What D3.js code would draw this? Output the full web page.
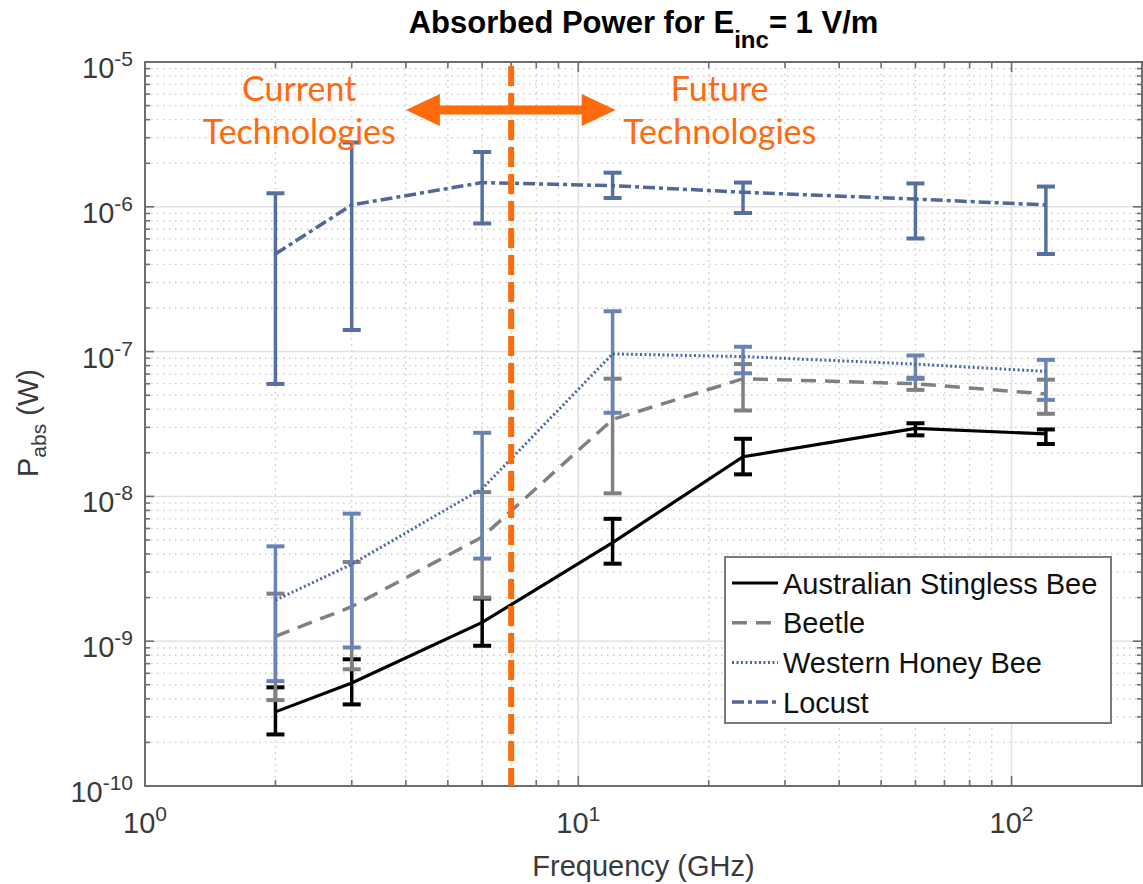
<!DOCTYPE html>
<html>
<head>
<meta charset="utf-8">
<script src="https://cdn.jsdelivr.net/npm/d3@7"></script>
<style>
  html, body { margin: 0; padding: 0; background: #fff; }
  svg { display: block; }
  text { font-family: "Liberation Sans", Arial, Helvetica, sans-serif; }
</style>
</head>
<body>
<svg id="chart" width="1143" height="884"></svg>
<script>
// ---------------- data ----------------
const frequencies = [2, 3, 6, 12, 24, 60, 120]; // GHz

const stinglessMean  = [3.25e-10, 5.15e-10, 1.35e-9, 4.8e-9, 1.88e-8, 2.95e-8, 2.7e-8];
const stinglessUpper = [4.8e-10, 7.5e-10, 1.97e-9, 7.0e-9, 2.5e-8, 3.2e-8, 2.9e-8];
const stinglessLower = [2.27e-10, 3.66e-10, 9.3e-10, 3.43e-9, 1.42e-8, 2.64e-8, 2.3e-8];

const beetleMean  = [1.08e-9, 1.73e-9, 5.24e-9, 3.4e-8, 6.5e-8, 6.0e-8, 5.1e-8];
const beetleUpper = [2.13e-9, 3.52e-9, 1.07e-8, 6.5e-8, 8.2e-8, 6.6e-8, 6.4e-8];
const beetleLower = [3.92e-10, 6.4e-10, 2.0e-9, 1.05e-8, 3.92e-8, 5.44e-8, 3.72e-8];

const honeyMean  = [1.92e-9, 3.4e-9, 1.13e-8, 9.64e-8, 9.24e-8, 8.2e-8, 7.3e-8];
const honeyUpper = [4.52e-9, 7.6e-9, 2.75e-8, 1.9e-7, 1.08e-7, 9.4e-8, 8.77e-8];
const honeyLower = [5.3e-10, 9.05e-10, 3.72e-9, 3.78e-8, 7.08e-8, 6.48e-8, 4.64e-8];

const locustMean  = [4.72e-7, 1.03e-6, 1.47e-6, 1.40e-6, 1.26e-6, 1.13e-6, 1.03e-6];
const locustUpper = [1.24e-6, 2.78e-6, 2.39e-6, 1.72e-6, 1.47e-6, 1.45e-6, 1.38e-6];
const locustLower = [5.98e-8, 1.41e-7, 7.67e-7, 1.15e-6, 9.06e-7, 6.04e-7, 4.72e-7];

const seriesNames = ["Australian Stingless Bee", "Beetle", "Western Honey Bee", "Locust"];

const xDomain = [1, 200];
const yDomain = [1e-10, 1e-5];
const xMajorTicks = [1, 10, 100];
const xTickExponents = ["0", "1", "2"];
const yMajorTicks = [1e-10, 1e-9, 1e-8, 1e-7, 1e-6, 1e-5];
const yTickExponents = ["-10", "-9", "-8", "-7", "-6", "-5"];

const dividerFreq = 7;          // GHz, orange boundary
const arrowFrom = 4.0, arrowTo = 12.2, arrowLevel = 4.66e-6;
const currentLabelFreq = 2.27, futureLabelFreq = 21.2;

// ---------------- layout ----------------
const margin = { left: 145, right: 1142, top: 62, bottom: 786 };
const svg = d3.select("#chart");

const x = d3.scaleLog().domain(xDomain).range([margin.left, margin.right]);
const y = d3.scaleLog().domain(yDomain).range([margin.bottom, margin.top]);

const xMinor = [];
for (let d = 1; d <= 100; d *= 10) for (let k = 2; k <= 9; k++) { const v = k * d; if (v < xDomain[1]) xMinor.push(v); }
const yMinor = [];
for (let e = -10; e < -5; e++) for (let k = 2; k <= 9; k++) yMinor.push(k * Math.pow(10, e));

const plot = svg.append("g");

plot.append("rect").attr("x", margin.left).attr("y", margin.top)
  .attr("width", margin.right - margin.left).attr("height", margin.bottom - margin.top)
  .attr("fill", "#fff");

const grid = plot.append("g");
grid.selectAll(".xminor").data(xMinor).enter().append("line")
  .attr("x1", d => x(d)).attr("x2", d => x(d)).attr("y1", margin.top).attr("y2", margin.bottom)
  .attr("stroke", "#c8c8c8").attr("stroke-width", 1.3).attr("stroke-dasharray", "1.5,4.5");
grid.selectAll(".yminor").data(yMinor).enter().append("line")
  .attr("y1", d => y(d)).attr("y2", d => y(d)).attr("x1", margin.left).attr("x2", margin.right)
  .attr("stroke", "#c8c8c8").attr("stroke-width", 1.3).attr("stroke-dasharray", "1.5,4.5");
grid.selectAll(".xmajor").data(xMajorTicks.filter(d => d > xDomain[0])).enter().append("line")
  .attr("x1", d => x(d)).attr("x2", d => x(d)).attr("y1", margin.top).attr("y2", margin.bottom)
  .attr("stroke", "#e2e2e2").attr("stroke-width", 1.5);
grid.selectAll(".ymajor").data(yMajorTicks.slice(1, -1)).enter().append("line")
  .attr("y1", d => y(d)).attr("y2", d => y(d)).attr("x1", margin.left).attr("x2", margin.right)
  .attr("stroke", "#e2e2e2").attr("stroke-width", 1.5);

// ---------------- series ----------------
const series = [
  { name: seriesNames[0], mean: stinglessMean, up: stinglessUpper, lo: stinglessLower,
    color: "#000000", barColor: "#000000", width: 3.2, dash: null },
  { name: seriesNames[1], mean: beetleMean, up: beetleUpper, lo: beetleLower,
    color: "#808080", barColor: "#808080", width: 3.5, dash: "15,9" },
  { name: seriesNames[2], mean: honeyMean, up: honeyUpper, lo: honeyLower,
    color: "#4a67a8", barColor: "#6a83b5", width: 3, dash: "2,2.5" },
  { name: seriesNames[3], mean: locustMean, up: locustUpper, lo: locustLower,
    color: "#4f6898", barColor: "#5570a0", width: 3.5, dash: "12,4,4,4" }
];

const line = d3.line().x(d => x(d[0])).y(d => y(d[1]));

series.forEach(s => {
  const g = plot.append("g");
  const pts = frequencies.map((f, i) => [f, s.mean[i], s.up[i], s.lo[i]]);
  g.selectAll(".bar").data(pts).enter().append("line")
    .attr("x1", d => x(d[0])).attr("x2", d => x(d[0]))
    .attr("y1", d => y(d[2])).attr("y2", d => y(d[3]))
    .attr("stroke", s.barColor).attr("stroke-width", 3.5);
  g.selectAll(".capu").data(pts).enter().append("line")
    .attr("x1", d => x(d[0]) - 9).attr("x2", d => x(d[0]) + 9)
    .attr("y1", d => y(d[2])).attr("y2", d => y(d[2]))
    .attr("stroke", s.barColor).attr("stroke-width", 4);
  g.selectAll(".capl").data(pts).enter().append("line")
    .attr("x1", d => x(d[0]) - 9).attr("x2", d => x(d[0]) + 9)
    .attr("y1", d => y(d[3])).attr("y2", d => y(d[3]))
    .attr("stroke", s.barColor).attr("stroke-width", 4);
  g.append("path").datum(pts).attr("d", line)
    .attr("fill", "none").attr("stroke", s.color).attr("stroke-width", s.width)
    .attr("stroke-dasharray", s.dash);
});

// ---------------- axes ----------------
const axisColor = "#6e6e6e";
const ax = plot.append("g");
ax.append("rect").attr("x", margin.left).attr("y", margin.top)
  .attr("width", margin.right - margin.left).attr("height", margin.bottom - margin.top)
  .attr("fill", "none").attr("stroke", axisColor).attr("stroke-width", 2);

function xTicks(vals, len) {
  ax.selectAll(null).data(vals).enter().append("line")
    .attr("x1", d => x(d)).attr("x2", d => x(d)).attr("y1", margin.bottom).attr("y2", margin.bottom - len)
    .attr("stroke", axisColor).attr("stroke-width", 1.6);
  ax.selectAll(null).data(vals).enter().append("line")
    .attr("x1", d => x(d)).attr("x2", d => x(d)).attr("y1", margin.top).attr("y2", margin.top + len)
    .attr("stroke", axisColor).attr("stroke-width", 1.6);
}
function yTicks(vals, len) {
  ax.selectAll(null).data(vals).enter().append("line")
    .attr("y1", d => y(d)).attr("y2", d => y(d)).attr("x1", margin.left).attr("x2", margin.left + len)
    .attr("stroke", axisColor).attr("stroke-width", 1.6);
  ax.selectAll(null).data(vals).enter().append("line")
    .attr("y1", d => y(d)).attr("y2", d => y(d)).attr("x1", margin.right).attr("x2", margin.right - len)
    .attr("stroke", axisColor).attr("stroke-width", 1.6);
}
xTicks(xMajorTicks, 10); xTicks(xMinor, 6);
yTicks(yMajorTicks, 9); yTicks(yMinor, 5);

const tickColor = "#3a3a3a";
xMajorTicks.forEach((v, i) => {
  const t = svg.append("text").attr("x", x(v)).attr("y", 833)
    .attr("text-anchor", "middle").attr("font-size", 29).attr("fill", tickColor);
  t.append("tspan").text("10");
  t.append("tspan").attr("dy", -12).attr("font-size", 21).text(xTickExponents[i]);
});
yMajorTicks.forEach((v, i) => {
  const t = svg.append("text").attr("x", 133).attr("y", y(v) + 16)
    .attr("text-anchor", "end").attr("font-size", 29).attr("fill", tickColor);
  t.append("tspan").text("10");
  t.append("tspan").attr("dy", -12).attr("font-size", 21).text(yTickExponents[i]);
});

svg.append("text").attr("x", (margin.left + margin.right) / 2).attr("y", 876)
  .attr("text-anchor", "middle").attr("font-size", 29).attr("fill", tickColor)
  .text("Frequency (GHz)");

const yl = svg.append("text").attr("transform", "translate(38,423) rotate(-90)")
  .attr("text-anchor", "middle").attr("font-size", 29).attr("fill", tickColor);
yl.append("tspan").text("P");
yl.append("tspan").attr("dy", 8).attr("font-size", 21).text("abs");
yl.append("tspan").attr("dy", -8).text(" (W)");

const title = svg.append("text").attr("x", (margin.left + margin.right) / 2).attr("y", 33)
  .attr("text-anchor", "middle").attr("font-size", 31).attr("font-weight", "bold").attr("fill", "#000");
title.append("tspan").text("Absorbed Power for E");
title.append("tspan").attr("dy", 15).attr("font-size", 24).text("inc");
title.append("tspan").attr("dy", -15).text("= 1 V/m");

// ---------------- annotations ----------------
const orange = "#ff6a0c";
svg.append("line").attr("x1", x(dividerFreq)).attr("x2", x(dividerFreq))
  .attr("y1", margin.top + 4).attr("y2", margin.bottom)
  .attr("stroke", orange).attr("stroke-width", 6).attr("stroke-dasharray", "20,7");

const ay = y(arrowLevel), ax1 = x(arrowFrom), ax2 = x(arrowTo);
const head = 34, hh = 16, shaft = 4.5;
svg.append("path")
  .attr("d", `M${ax1},${ay} L${ax1 + head},${ay - hh} L${ax1 + head},${ay - shaft} L${ax2 - head},${ay - shaft} L${ax2 - head},${ay - hh} L${ax2},${ay} L${ax2 - head},${ay + hh} L${ax2 - head},${ay + shaft} L${ax1 + head},${ay + shaft} L${ax1 + head},${ay + hh} Z`)
  .attr("fill", orange);

function twoLine(cx, lines) {
  const t = svg.append("text").attr("x", cx).attr("y", 101)
    .attr("text-anchor", "middle").attr("font-size", 34).attr("fill", orange)
    .style("font-family", "Lato, 'Open Sans', sans-serif");
  lines.forEach((s, i) => t.append("tspan").attr("x", cx).attr("dy", i === 0 ? 0 : 43).text(s));
}
twoLine(x(currentLabelFreq), ["Current", "Technologies"]);
twoLine(x(futureLabelFreq), ["Future", "Technologies"]);

// ---------------- legend ----------------
const lg = svg.append("g");
lg.append("rect").attr("x", 725).attr("y", 557).attr("width", 386).attr("height", 166)
  .attr("fill", "#fff").attr("stroke", "#7a7a7a").attr("stroke-width", 2);
series.forEach((s, i) => {
  const cy = 583 + i * 39.7;
  lg.append("line").attr("x1", 732).attr("x2", 778).attr("y1", cy).attr("y2", cy)
    .attr("stroke", s.color).attr("stroke-width", s.width).attr("stroke-dasharray", s.dash);
  lg.append("text").attr("x", 783).attr("y", cy + 10.5).attr("font-size", 29).attr("fill", "#111")
    .text(s.name);
});
</script>
</body>
</html>
